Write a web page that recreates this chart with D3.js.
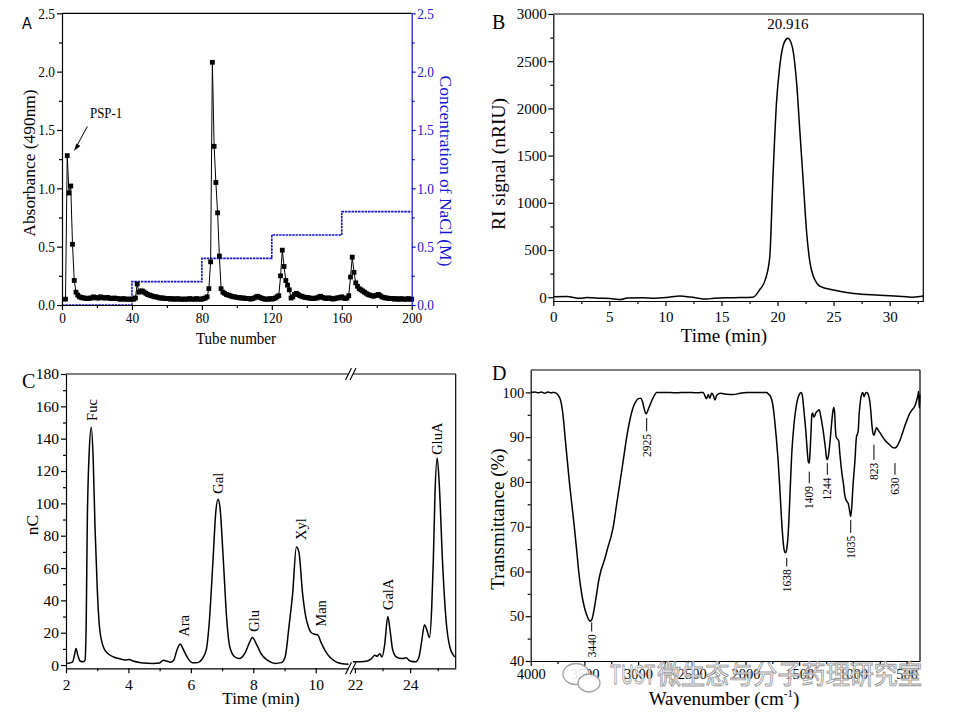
<!DOCTYPE html>
<html lang="en">
<head>
<meta charset="UTF-8" />
<title>PSP-1 characterisation</title>
<script src="https://d3js.org/d3.v7.min.js"></script>
<style>
  body { margin: 0; background: #fff; }
</style>
</head>
<body>
<svg width="963" height="723"></svg>
<script>
// ---------- data: panel A (DEAE column elution) ----------
var tubeStart = 2;
var absorbance = [
  0.05, 1.28, 0.96, 1.02, 0.52, 0.21, 0.11, 0.085, 0.07,
  0.065, 0.06, 0.06, 0.055, 0.055, 0.06, 0.06, 0.07, 0.065, 0.06,
  0.06, 0.07, 0.065, 0.06, 0.06, 0.065, 0.06, 0.055, 0.055, 0.06,
  0.055, 0.055, 0.05, 0.05, 0.055, 0.05, 0.05, 0.05, 0.05, 0.05,
  0.05, 0.06, 0.18, 0.11, 0.12, 0.12, 0.11, 0.1, 0.09, 0.085,
  0.08, 0.075, 0.07, 0.07, 0.065, 0.06, 0.06, 0.06, 0.055, 0.055,
  0.055, 0.05, 0.055, 0.05, 0.05, 0.055, 0.05, 0.05, 0.05, 0.05,
  0.05, 0.05, 0.055, 0.05, 0.05, 0.05, 0.055, 0.05, 0.05, 0.05,
  0.055, 0.06, 0.07, 0.14, 0.37, 2.08, 1.36, 1.05, 0.79, 0.42,
  0.14, 0.11, 0.1, 0.09, 0.085, 0.08, 0.075, 0.07, 0.07, 0.065,
  0.065, 0.06, 0.06, 0.06, 0.055, 0.055, 0.055, 0.05, 0.055, 0.06,
  0.07, 0.075, 0.065, 0.06, 0.055, 0.05, 0.05, 0.05, 0.055, 0.05,
  0.055, 0.06, 0.07, 0.08, 0.25, 0.47, 0.33, 0.21, 0.17, 0.13,
  0.06, 0.07, 0.09, 0.1, 0.09, 0.08, 0.075, 0.07, 0.065, 0.065,
  0.06, 0.06, 0.055, 0.055, 0.06, 0.06, 0.07, 0.075, 0.065, 0.06,
  0.055, 0.06, 0.06, 0.055, 0.05, 0.055, 0.06, 0.06, 0.065, 0.07,
  0.06, 0.055, 0.06, 0.08, 0.24, 0.41, 0.28, 0.19, 0.16, 0.14,
  0.13, 0.12, 0.11, 0.1, 0.09, 0.085, 0.08, 0.075, 0.08, 0.085,
  0.09, 0.08, 0.07, 0.065, 0.06, 0.06, 0.055, 0.055, 0.055, 0.05,
  0.055, 0.05, 0.05, 0.055, 0.05, 0.05, 0.05, 0.055, 0.05, 0.05
];
var naclTube = [0, 40, 80, 120, 160, 200];
var naclConc = [0, 0.2, 0.4, 0.6, 0.8, 0.8];
var aTicksX = [0, 40, 80, 120, 160, 200];
var aMinorX = [20, 60, 100, 140, 180];
var aTicksY = [0, 0.5, 1.0, 1.5, 2.0, 2.5];
var aMinorY = [0.25, 0.75, 1.25, 1.75, 2.25];

// ---------- data: panel B (HPGPC) ----------
var bTime = [0, 1.2, 2.4, 3.0, 4.2, 5.4, 6.0, 6.6, 8.0, 9.0, 10.1, 11.3, 12.2, 13.7, 14.3, 16.1, 17.8,
  18.4, 18.9, 19.3, 19.6, 19.9, 20.2, 20.6, 20.92, 21.3, 21.7, 22.0, 22.3, 22.6, 22.9, 23.2, 23.5,
  23.8, 25.0, 26.8, 29.1, 31.5, 32.1, 33];
var bSignal = [5, 7, -12, -3, -10, -18, -25, -8, -5, -10, -3, 12, 3, -20, -10, -5, 0,
  78, 184, 420, 1300, 2050, 2450, 2700, 2742, 2660, 2270, 1740, 1210, 680, 360, 220, 150,
  115, 77, 40, 22, 5, 0, 12];
var bTicksX = [0, 5, 10, 15, 20, 25, 30];
var bMinorX = [2.5, 7.5, 12.5, 17.5, 22.5, 27.5, 32.5];
var bTicksY = [0, 500, 1000, 1500, 2000, 2500, 3000];
var bMinorY = [250, 750, 1250, 1750, 2250, 2750];
var bPeakTime = 20.916;

// ---------- data: panel C (monosaccharide HPAEC) ----------
var cLeftTime = [2.0, 2.1, 2.21, 2.27, 2.32, 2.38, 2.45, 2.55, 2.61, 2.65, 2.68, 2.74, 2.81, 2.87, 2.93, 3.0,
  3.07, 3.2, 3.35, 3.52, 3.7, 3.9, 4.03, 4.15, 4.4, 4.8, 5.0, 5.12, 5.22, 5.35, 5.45, 5.55, 5.66,
  5.75, 5.88, 6.05, 6.2, 6.37, 6.5, 6.58, 6.71, 6.8, 6.87, 6.93, 7.04, 7.15, 7.25, 7.41, 7.55,
  7.75, 7.88, 7.97, 8.1, 8.25, 8.45, 8.7, 8.9, 9.02, 9.15, 9.26, 9.38, 9.46, 9.58, 9.68, 9.76,
  9.86, 9.98, 10.07, 10.17, 10.3, 10.45, 10.65, 10.85, 11.05];
var cLeftNc = [1, 1.2, 2, 6, 10.3, 6, 2.5, 2, 3, 30, 85, 130, 147, 128, 85, 48,
  24, 11, 7, 5, 4, 3.2, 3.5, 2.5, 1.5, 1, 1.3, 3, 2.5, 1.8, 3, 9, 13,
  10, 5, 1.5, 1.5, 4, 10, 24, 65, 95, 102.5, 98, 65, 28, 11, 5, 4,
  8, 14, 17, 13, 7, 3, 1, 1.5, 5, 25, 44, 73, 70, 44, 30, 24,
  20, 19, 18.5, 14, 9, 5, 2, 0.8, 0.5];
var cRightTime = [21.93, 22.2, 22.45, 22.6, 22.72, 22.8, 22.9, 22.98, 23.08, 23.19, 23.27, 23.36, 23.5,
  23.7, 23.85, 24.0, 24.2, 24.32, 24.42, 24.52, 24.6, 24.7, 24.78, 24.84, 24.9, 24.98, 25.06, 25.17,
  25.3, 25.44, 25.62];
var cRightNc = [2, 2, 2.5, 4, 6, 5.5, 7, 5, 13, 30, 22, 10, 5,
  4, 4.5, 2.5, 2, 5, 15, 25, 22, 17, 35, 65, 106, 128, 110, 65,
  28, 11, 5];
var cLabels = ["Fuc", "Ara", "Gal", "Glu", "Xyl", "Man", "GalA", "GluA"];
var cLabelTime = [2.82, 5.78, 6.86, 8.03, 9.54, 10.17, 23.21, 24.98];
var cLabelNc = [151, 17.5, 106, 20.6, 77.3, 23.7, 34, 130];
var cLabelRight = [false, false, false, false, false, false, true, true];
var cTicksXL = [2, 4, 6, 8, 10];
var cMinorXL = [3, 5, 7, 9];
var cTicksXR = [22, 24];
var cMinorXR = [23, 25];
var cTicksY = [0, 20, 40, 60, 80, 100, 120, 140, 160, 180];
var cMinorY = [10, 30, 50, 70, 90, 110, 130, 150, 170];

// ---------- data: panel D (FT-IR) ----------
var dWave = [4000, 3960, 3930, 3900, 3870, 3840, 3810, 3780, 3755, 3743, 3725, 3711, 3695, 3680, 3660,
  3640, 3617, 3594, 3573, 3553, 3525, 3505, 3485, 3465, 3448, 3430, 3410, 3386, 3368, 3348, 3328,
  3308, 3280, 3255, 3231, 3200, 3168, 3137, 3106, 3075, 3044, 3020, 2998, 2975, 2960, 2945, 2925,
  2905, 2889, 2870, 2850, 2827, 2750, 2650, 2550, 2450, 2393, 2378, 2362, 2347, 2331, 2316, 2300,
  2285, 2269, 2237, 2180, 2114, 2050, 1989, 1900, 1830, 1803, 1785, 1772, 1755, 1741, 1725, 1710,
  1694, 1679, 1665, 1654, 1640, 1628, 1616, 1601, 1586, 1570, 1548, 1530, 1517, 1500, 1483, 1470,
  1462, 1450, 1437, 1425, 1415, 1406, 1398, 1390, 1382, 1374, 1365, 1359, 1345, 1330, 1313, 1300,
  1291, 1275, 1257, 1245, 1238, 1228, 1215, 1200, 1188, 1178, 1170, 1163, 1155, 1145, 1132, 1122,
  1114, 1100, 1089, 1075, 1067, 1055, 1043, 1030, 1020, 1010, 1002, 990, 980, 972, 965, 958, 949,
  942, 934, 926, 918, 910, 903, 895, 887, 875, 862, 851, 841, 832, 822, 812, 803, 790, 780, 772,
  760, 748, 730, 701, 680, 654, 630, 608, 590, 575, 561, 540, 515, 490, 468, 445, 422, 405, 393,
  388, 381, 376];
var dTrans = [100, 100.1, 99.9, 100.1, 99.8, 100.1, 99.9, 100, 99.7, 99.3, 98.5, 97, 94, 90, 85,
  80, 75, 70, 65, 60, 55, 52.5, 50.7, 49.5, 48.9, 49.3, 51.5, 55, 57.8, 60, 61.5,
  63, 65.5, 67.5, 70, 75, 80, 85, 90, 94, 96.8, 98, 98.6, 98.7, 98, 96.5, 95.2,
  96.2, 97.2, 98.3, 99.3, 100, 100, 99.9, 100, 99.9, 100, 99.2, 98.6, 99.5, 98.7, 99.8, 99.4,
  98.3, 99.3, 99.8, 99.6, 99.5, 99.8, 100, 100, 100, 100, 99.6, 99.3, 98.3, 96.5, 93, 89,
  84, 78, 72, 68, 64.8, 64.2, 65, 69, 77, 86, 93, 96.5, 98.2, 99.5, 100, 99.2,
  97.5, 94.5, 91, 87, 84.5, 84.2, 87, 91, 95, 95.4, 94.5, 94.6, 95.4, 95.8, 96.1, 94.8,
  93.6, 91.2, 87.8, 85.3, 85, 85.8, 88.5, 92.5, 95.5, 96.6, 95.5, 92, 90, 89.6, 89.2, 86.5,
  84.5, 81.5, 79.8, 77, 76.2, 75.6, 75.2, 73.5, 72.3, 74.5, 78, 82, 85, 88.5, 90.3, 90.6, 91.8,
  95, 97.2, 98.8, 99.5, 100, 99.7, 99, 99.6, 100, 99.8, 99, 97.8, 95.5, 92.5, 90.8, 90.4, 91.5, 92.1, 91.9,
  91.4, 91, 90.3, 89.3, 88.8, 88.2, 87.7, 87.6, 87.9, 88.6, 89.3, 90.8, 92.6, 94.2, 95.4, 96.2, 97, 98.3, 99.5,
  100.2, 96.5, 99.5];
var dPeakLabel = ["3440", "2925", "1638", "1409", "1244", "1035", "823", "630"];
var dPeakWave = [3432, 2920, 1616, 1406, 1238, 1020, 804, 608];
var dLineTop = [48.6, 94.3, 63.0, 82.3, 84.2, 71.5, 88.3, 84.2];
var dLineBottom = [46.6, 91.3, 61.1, 79.7, 81.6, 68.6, 84.9, 81.6];
var dTicksX = [4000, 3500, 3000, 2500, 2000, 1500, 1000, 500];
var dMinorX = [3750, 3250, 2750, 2250, 1750, 1250, 750];
var dTicksY = [40, 50, 60, 70, 80, 90, 100];
var dMinorY = [45, 55, 65, 75, 85, 95];

// ---------- helpers ----------
var serif = "'Liberation Serif','Times New Roman',serif";
var blue = "#1414d2";
var intFmt = d3.format("d");
var svg = d3.select("svg");

function addAxis(parent, gen, tx, ty, color, fs) {
    var g = parent.append("g")
        .attr("transform", "translate(" + tx + "," + ty + ")")
        .call(gen);
    g.attr("font-family", serif).attr("font-size", fs || 15);
    g.selectAll(".domain").attr("stroke", color).attr("stroke-width", 1.2);
    g.selectAll(".tick line").attr("stroke", color).attr("stroke-width", 1.2);
    g.selectAll(".tick text").attr("fill", color);
    return g;
}
function addMinor(parent, gen, tx, ty, color) {
    var g = addAxis(parent, gen.tickFormat("").tickSize(3).tickSizeOuter(0), tx, ty, color);
    g.select(".domain").remove();
    return g;
}
function hline(parent, x1, x2, y, color) {
    parent.append("line").attr("x1", x1).attr("x2", x2).attr("y1", y).attr("y2", y)
        .attr("stroke", color || "#000").attr("stroke-width", 1.2);
}
function vline(parent, x, y1, y2, color, w) {
    parent.append("line").attr("x1", x).attr("x2", x).attr("y1", y1).attr("y2", y2)
        .attr("stroke", color || "#000").attr("stroke-width", w || 1.2);
}
function label(parent, x, y, str, fs, opts) {
    opts = opts || {};
    var t = parent.append("text")
        .attr("font-family", opts.family || serif)
        .attr("font-size", fs)
        .attr("fill", opts.color || "#000")
        .attr("text-anchor", opts.anchor || "middle")
        .text(str);
    if (opts.rotate) {
        t.attr("transform", "translate(" + x + "," + y + ") rotate(" + opts.rotate + ")")
         .attr("dy", "0.35em");
    } else {
        t.attr("x", x).attr("y", y);
    }
    return t;
}

// ---------- panel A ----------
var xA = d3.scaleLinear().domain([0, 200]).range([62, 411.7]);
var yA = d3.scaleLinear().domain([0, 2.5]).range([305, 13.3]);
var yA2 = d3.scaleLinear().domain([0, 2.5]).range([305, 13.3]);
var pA = svg.append("g");

hline(pA, xA(0), xA(200), yA(2.5));

// NaCl step gradient
pA.append("path")
    .attr("d", d3.line().x(function(d, i) { return xA(naclTube[i]); })
        .y(function(d) { return yA2(d); }).curve(d3.curveStepAfter)(naclConc))
    .attr("fill", "none").attr("stroke", blue).attr("stroke-width", 1.6)
    .attr("stroke-dasharray", "2.5,0.8");

var absPts = absorbance.map(function(v, i) { return [tubeStart + i, v]; });
pA.append("path")
    .attr("d", d3.line().x(function(d) { return xA(d[0]); }).y(function(d) { return yA(d[1]); })(absPts))
    .attr("fill", "none").attr("stroke", "#000").attr("stroke-width", 1);
pA.selectAll("rect.pt").data(absPts).join("rect")
    .attr("class", "pt")
    .attr("x", function(d) { return xA(d[0]) - 2.4; })
    .attr("y", function(d) { return yA(d[1]) - 2.4; })
    .attr("width", 4.8).attr("height", 4.8).attr("fill", "#000");

addAxis(pA, d3.axisBottom(xA).tickValues(aTicksX).tickFormat(intFmt).tickSize(5).tickPadding(2).tickSizeOuter(0), 0, 305, "#000", 15.5);
addMinor(pA, d3.axisBottom(xA).tickValues(aMinorX), 0, 305, "#000");
addAxis(pA, d3.axisLeft(yA).tickValues(aTicksY).tickFormat(d3.format(".1f")).tickSize(5).tickPadding(2).tickSizeOuter(0), 62, 0, "#000", 15.5);
addMinor(pA, d3.axisLeft(yA).tickValues(aMinorY), 62, 0, "#000");
addAxis(pA, d3.axisRight(yA2).tickValues(aTicksY).tickFormat(d3.format(".1f")).tickSize(4).tickPadding(1.5).tickSizeOuter(0), 411.7, 0, blue, 15.5);
addMinor(pA, d3.axisRight(yA2).tickValues(aMinorY), 411.7, 0, blue);

label(pA, 22, 29, "A", 17, { anchor: "start", family: "'Liberation Sans',Arial,sans-serif" });
label(pA, 28.5, 163, "Absorbance (490nm)", 17.4, { rotate: -90 });
label(pA, 446.5, 171, "Concentration of NaCl (M)", 17.5, { rotate: 90, color: blue });
label(pA, 236, 344, "Tube number", 17.5, {});
label(pA, xA(16), yA(1.60), "PSP-1", 15, { anchor: "start" });
pA.append("line")
    .attr("x1", xA(14.5)).attr("y1", yA(1.53)).attr("x2", xA(7.6)).attr("y2", yA(1.34))
    .attr("stroke", "#000").attr("stroke-width", 1);
pA.append("path")
    .attr("d", "M" + xA(6.8) + "," + yA(1.32) + "L" + (xA(6.8) + 2.5) + "," + (yA(1.32) - 7.5) +
        "L" + (xA(6.8) + 6.5) + "," + (yA(1.32) - 5) + "Z")
    .attr("fill", "#000");

// panel A artwork is horizontally squeezed in the source figure
pA.selectAll("text").each(function() {
    var t = d3.select(this);
    if ((t.attr("transform") || "").indexOf("rotate") >= 0) return;
    t.attr("textLength", this.getComputedTextLength() * 0.86).attr("lengthAdjust", "spacingAndGlyphs");
});

// ---------- panel B ----------
var xB = d3.scaleLinear().domain([0, 33]).range([553.3, 923.3]);
var yB = d3.scaleLinear().domain([-40, 3000]).range([301, 14]);
var pB = svg.append("g");
hline(pB, xB(0), xB(33), yB(3000));
vline(pB, xB(33), yB(3000), yB(-40));
pB.append("path")
    .attr("d", d3.line().x(function(d, i) { return xB(bTime[i]); }).y(function(d) { return yB(d); })
        .curve(d3.curveMonotoneX)(bSignal))
    .attr("fill", "none").attr("stroke", "#000").attr("stroke-width", 1.5);
addAxis(pB, d3.axisBottom(xB).tickValues(bTicksX).tickFormat(intFmt).tickSize(5).tickPadding(5).tickSizeOuter(0), 0, 301, "#000", 15);
addMinor(pB, d3.axisBottom(xB).tickValues(bMinorX), 0, 301, "#000");
addAxis(pB, d3.axisLeft(yB).tickValues(bTicksY).tickFormat(intFmt).tickSize(5).tickPadding(1.5).tickSizeOuter(0), 553.3, 0, "#000", 15);
addMinor(pB, d3.axisLeft(yB).tickValues(bMinorY), 553.3, 0, "#000");
label(pB, 492, 29, "B", 20, { anchor: "start" });
label(pB, 498.5, 164, "RI signal (nRIU)", 19.5, { rotate: -90 });
label(pB, 724, 342, "Time (min)", 19, {});
label(pB, xB(bPeakTime), yB(2840), bPeakTime.toFixed(3), 15, {});

// ---------- panel C ----------
var xCL = d3.scaleLinear().domain([2, 11.05]).range([66, 348.5]);
var xCR = d3.scaleLinear().domain([21.93, 25.65]).range([353, 455.7]);
var yC = d3.scaleLinear().domain([-2, 180]).range([668.3, 374]);
var pC = svg.append("g");
hline(pC, 66, 348.5, yC(180));
hline(pC, 353, 455.7, yC(180));
vline(pC, 455.7, yC(180), yC(-2));
pC.append("path")
    .attr("d", d3.line().x(function(d, i) { return xCL(cLeftTime[i]); }).y(function(d) { return yC(d); })
        .curve(d3.curveMonotoneX)(cLeftNc))
    .attr("fill", "none").attr("stroke", "#000").attr("stroke-width", 1.5);
pC.append("path")
    .attr("d", d3.line().x(function(d, i) { return xCR(cRightTime[i]); }).y(function(d) { return yC(d); })
        .curve(d3.curveMonotoneX)(cRightNc))
    .attr("fill", "none").attr("stroke", "#000").attr("stroke-width", 1.5);
addAxis(pC, d3.axisBottom(xCL).tickValues(cTicksXL).tickFormat(intFmt).tickSize(5).tickPadding(6).tickSizeOuter(0), 0, 668.3, "#000", 15.5);
addMinor(pC, d3.axisBottom(xCL).tickValues(cMinorXL), 0, 668.3, "#000");
addAxis(pC, d3.axisBottom(xCR).tickValues(cTicksXR).tickFormat(intFmt).tickSize(5).tickPadding(6).tickSizeOuter(0), 0, 668.3, "#000", 15.5);
addMinor(pC, d3.axisBottom(xCR).tickValues(cMinorXR), 0, 668.3, "#000");
addAxis(pC, d3.axisLeft(yC).tickValues(cTicksY).tickFormat(intFmt).tickSize(5).tickPadding(2).tickSizeOuter(0), 66, 0, "#000", 15.5);
addMinor(pC, d3.axisLeft(yC).tickValues(cMinorY), 66, 0, "#000");
// axis break marks
[yC(180), yC(-2)].forEach(function(yy) {
    [348.5, 353].forEach(function(xx) {
        pC.append("line").attr("x1", xx - 3).attr("y1", yy + 6).attr("x2", xx + 3).attr("y2", yy - 6)
            .attr("stroke", "#000").attr("stroke-width", 1.1);
    });
});
cLabels.forEach(function(s, i) {
    var xx = cLabelRight[i] ? xCR(cLabelTime[i]) : xCL(cLabelTime[i]);
    label(pC, xx, yC(cLabelNc[i]), s, 14.5, { rotate: -90, anchor: "start" });
});
label(pC, 22, 388, "C", 20, { anchor: "start" });
label(pC, 32, 525, "nC", 17.5, { rotate: -90 });
label(pC, 261, 704, "Time (min)", 17, {});

// ---------- panel D ----------
var xD = d3.scaleLinear().domain([4000, 375]).range([530.7, 920]);
var yD = d3.scaleLinear().domain([40, 105]).range([661, 370]);
var pD = svg.append("g");
hline(pD, 530.7, 920, yD(105));
vline(pD, 920, yD(105), yD(40));
pD.append("path")
    .attr("d", d3.line().x(function(d, i) { return xD(dWave[i]); }).y(function(d) { return yD(d); })
        .curve(d3.curveMonotoneX)(dTrans))
    .attr("fill", "none").attr("stroke", "#000").attr("stroke-width", 1.5);
addAxis(pD, d3.axisBottom(xD).tickValues(dTicksX).tickFormat(intFmt).tickSize(5).tickPadding(3).tickSizeOuter(0), 0, 661, "#000", 14.5);
addMinor(pD, d3.axisBottom(xD).tickValues(dMinorX), 0, 661, "#000");
addAxis(pD, d3.axisLeft(yD).tickValues(dTicksY).tickFormat(intFmt).tickSize(5).tickPadding(1.5).tickSizeOuter(0), 530.7, 0, "#000", 14.5);
addMinor(pD, d3.axisLeft(yD).tickValues(dMinorY), 530.7, 0, "#000");
dPeakLabel.forEach(function(s, i) {
    vline(pD, xD(dPeakWave[i]), yD(dLineTop[i]), yD(dLineBottom[i]), "#000", 1);
    label(pD, xD(dPeakWave[i]), yD(dLineBottom[i] - 0.6), s, 11.5, { rotate: -90, anchor: "end" });
});
label(pD, 492, 380, "D", 20, { anchor: "start" });
label(pD, 497.5, 519, "Transmittance (%)", 19, { rotate: -90 });
var wt = label(pD, 724, 705, "Wavenumber (cm", 19, {});
wt.append("tspan").attr("font-size", 11).attr("dy", -8).text("-1");
wt.append("tspan").attr("dy", 8).text(")");

// ---------- watermark ----------
var wm = svg.append("g").attr("opacity", 0.9);
wm.append("ellipse").attr("cx", 576).attr("cy", 674).attr("rx", 13).attr("ry", 10.5)
    .attr("fill", "#fff").attr("stroke", "#9a9a9a").attr("stroke-width", 1.3);
wm.append("ellipse").attr("cx", 589).attr("cy", 683).attr("rx", 11).attr("ry", 9)
    .attr("fill", "#fff").attr("stroke", "#9a9a9a").attr("stroke-width", 1.3);
wm.append("text").attr("x", 610).attr("y", 684).attr("font-family", "'Noto Sans CJK SC','Noto Sans',sans-serif")
    .attr("font-size", 26).attr("fill", "#fff").attr("stroke", "#8c8c8c").attr("stroke-width", 0.9)
    .attr("textLength", 45).attr("lengthAdjust", "spacingAndGlyphs").text("TUST");
wm.append("text").attr("x", 657).attr("y", 684).attr("font-family", "'Noto Sans CJK SC',sans-serif")
    .attr("font-size", 26.5).attr("fill", "#fff").attr("stroke", "#8c8c8c").attr("stroke-width", 0.9)
    .attr("textLength", 265).attr("lengthAdjust", "spacingAndGlyphs").text("微生态与分子药理研究室");
</script>
</body>
</html>
